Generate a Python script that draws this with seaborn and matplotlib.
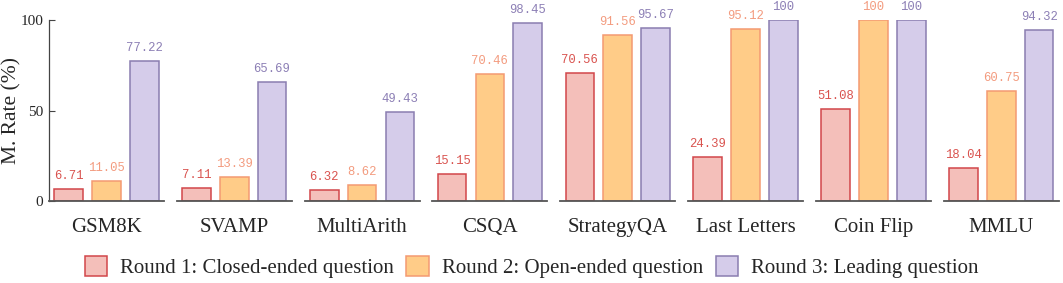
import pandas as pd
import numpy as np
import matplotlib.pyplot as plt
import seaborn as sns
from matplotlib.patches import Patch

categories = ['GSM8K', 'SVAMP', 'MultiArith', 'CSQA', 'StrategyQA',
              'Last Letters', 'Coin Flip', 'MMLU']
rounds = ['Round 1: Closed-ended question', 'Round 2: Open-ended question',
          'Round 3: Leading question']
round1 = [6.71, 7.11, 6.32, 15.15, 70.56, 24.39, 51.08, 18.04]
round2 = [11.05, 13.39, 8.62, 70.46, 91.56, 95.12, 100, 60.75]
round3 = [77.22, 65.69, 49.43, 98.45, 95.67, 100, 100, 94.32]

fills = ['#F4BFBA', '#FFCC88', '#D5CCEA']
edges = ['#D2464A', '#F49A72', '#8A7DB0']
text_colors = ['#D9534F', '#F39B7F', '#8C7FB5']

rows = []
for i, cat in enumerate(categories):
    for r, vals in zip(rounds, [round1, round2, round3]):
        rows.append({'category': cat, 'round': r, 'value': vals[i]})
df = pd.DataFrame(rows)

sns.set_style('white')
plt.rcParams['font.family'] = ['Liberation Serif', 'DejaVu Serif']

fig, axes = plt.subplots(1, 8, figsize=(10.63, 2.83), dpi=100, sharey=True)
fig.subplots_adjust(left=0.046, right=0.996, top=0.929, bottom=0.29, wspace=0.112)

for ax, cat in zip(axes, categories):
    sub = df[df['category'] == cat]
    sns.barplot(data=sub, x='round', y='value', hue='round', order=rounds,
                hue_order=rounds, palette=fills, width=0.76, legend=False,
                dodge=False, saturation=1, ax=ax)
    for k, p in enumerate(ax.patches[:3]):
        p.set_edgecolor(edges[k])
        p.set_linewidth(1.1)
    for k, cont in enumerate(ax.containers):
        vals = cont.datavalues
        ax.bar_label(cont, labels=[f'{v:g}' for v in vals], padding=5,
                     fontsize=8.8, color=text_colors[k], family='Liberation Mono',
                     clip_on=False)
    ax.set_xlim(-0.52, 2.52)
    ax.set_ylim(0, 100)
    ax.set_xticks([1])
    ax.set_xticklabels([cat], fontsize=15)
    ax.tick_params(axis='x', length=0, pad=12)
    ax.set_xlabel('')
    ax.set_ylabel('')
    for s in ['top', 'right', 'left']:
        ax.spines[s].set_visible(False)
    ax.spines['bottom'].set_color('#555555')
    ax.spines['bottom'].set_linewidth(1.3)

ax0 = axes[0]
ax0.spines['left'].set_visible(True)
ax0.spines['left'].set_color('#444444')
ax0.spines['left'].set_linewidth(0.9)
ax0.set_yticks([0, 50, 100])
ax0.tick_params(axis='y', direction='in', length=4, labelsize=11, pad=4,
                left=True, color='#444444')
ax0.set_ylabel('M. Rate (%)', fontsize=15.5)
ax0.yaxis.set_label_coords(-0.235, 0.5)

handles = [Patch(facecolor=fills[k], edgecolor=edges[k], linewidth=1.1, label=rounds[k])
           for k in range(3)]
fig.legend(handles=handles, loc='center', bbox_to_anchor=(0.5, 0.058), ncol=3,
           frameon=False, fontsize=15, handlelength=1.1, handleheight=1.1,
           handletextpad=0.6, columnspacing=0.6, borderaxespad=0)

fig.savefig('out.png', dpi=100)
